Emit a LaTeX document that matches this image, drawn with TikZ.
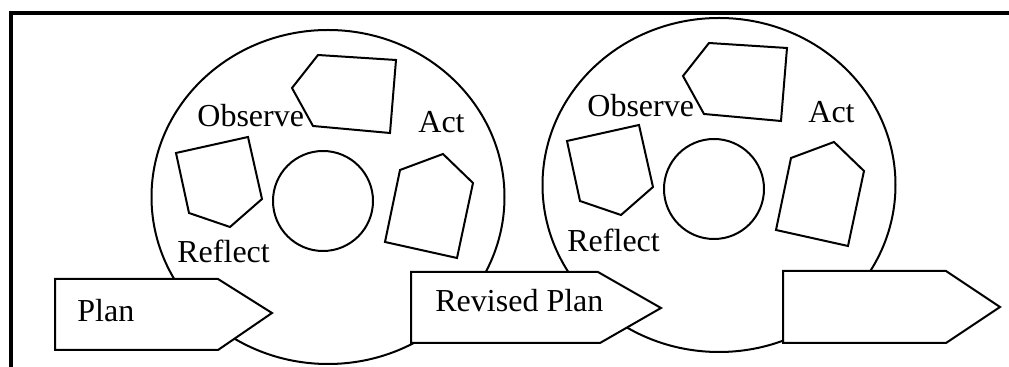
\documentclass[tikz,border=0pt]{standalone}
\usepackage{fontspec}
\setmainfont{Liberation Serif}
\usetikzlibrary{shapes.geometric}
\begin{document}
\begin{tikzpicture}[x=0.5pt,y=-0.5pt,
  ln/.style={line width=1pt,black},
  big/.style={ln,draw,ellipse,inner sep=0pt,minimum width=176.5pt,minimum height=167pt},
  hub/.style={ln,draw,circle,inner sep=0pt,minimum size=50pt},
  lbl/.style={inner sep=0pt,anchor=base west,font=\fontsize{16}{19}\selectfont},
  arrowbox/.style={ln,fill=white,line join=miter}]
\useasboundingbox (0,0) rectangle (1009,367);
\fill[white] (0,0) rectangle (1009,367);
% frame
\draw[line width=2pt] (11,367) -- (11,13) -- (1009,13);
% cycle 1
\node[big] (c1) at (328,197) {};
\node[hub] (h1) at (323,201) {};
\draw[ln] (318,55) -- (396,60) -- (390,133) -- (313,126) -- (292,88) -- cycle;
\draw[ln] (176,153) -- (248,137) -- (262,199) -- (230,227) -- (189,213) -- cycle;
\draw[ln] (443,154) -- (473,183) -- (457,258) -- (385,242) -- (400,170) -- cycle;
\node[lbl] (o1) at (197,127) {Observe};
\node[lbl] (a1) at (418,133) {Act};
\node[lbl] (r1) at (177,263) {Reflect};
% cycle 2
\begin{scope}[shift={(391,-12)}]
\node[big] (c2) at (328,197) {};
\node[hub] (h2) at (323,201) {};
\draw[ln] (318,55) -- (396,60) -- (390,133) -- (313,126) -- (292,88) -- cycle;
\draw[ln] (176,153) -- (248,137) -- (262,199) -- (230,227) -- (189,213) -- cycle;
\draw[ln] (443,154) -- (473,183) -- (457,258) -- (385,242) -- (400,170) -- cycle;
\end{scope}
\node[lbl] (o2) at (587,117) {Observe};
\node[lbl] (a2) at (808,123) {Act};
\node[lbl] (r2) at (567,252) {Reflect};
% arrows
\draw[arrowbox] (55,279) -- (218,279) -- (272,313) -- (218,350) -- (55,350) -- cycle;
\node[lbl] (p1) at (77,322) {Plan};
\draw[arrowbox] (411,272) -- (598,272) -- (661,308) -- (600,343) -- (411,343) -- cycle;
\node[lbl] (p2) at (435,312) {Revised Plan};
\draw[arrowbox] (783,271) -- (946,271) -- (1000,307) -- (946,343) -- (783,343) -- cycle;
\end{tikzpicture}
\end{document}
